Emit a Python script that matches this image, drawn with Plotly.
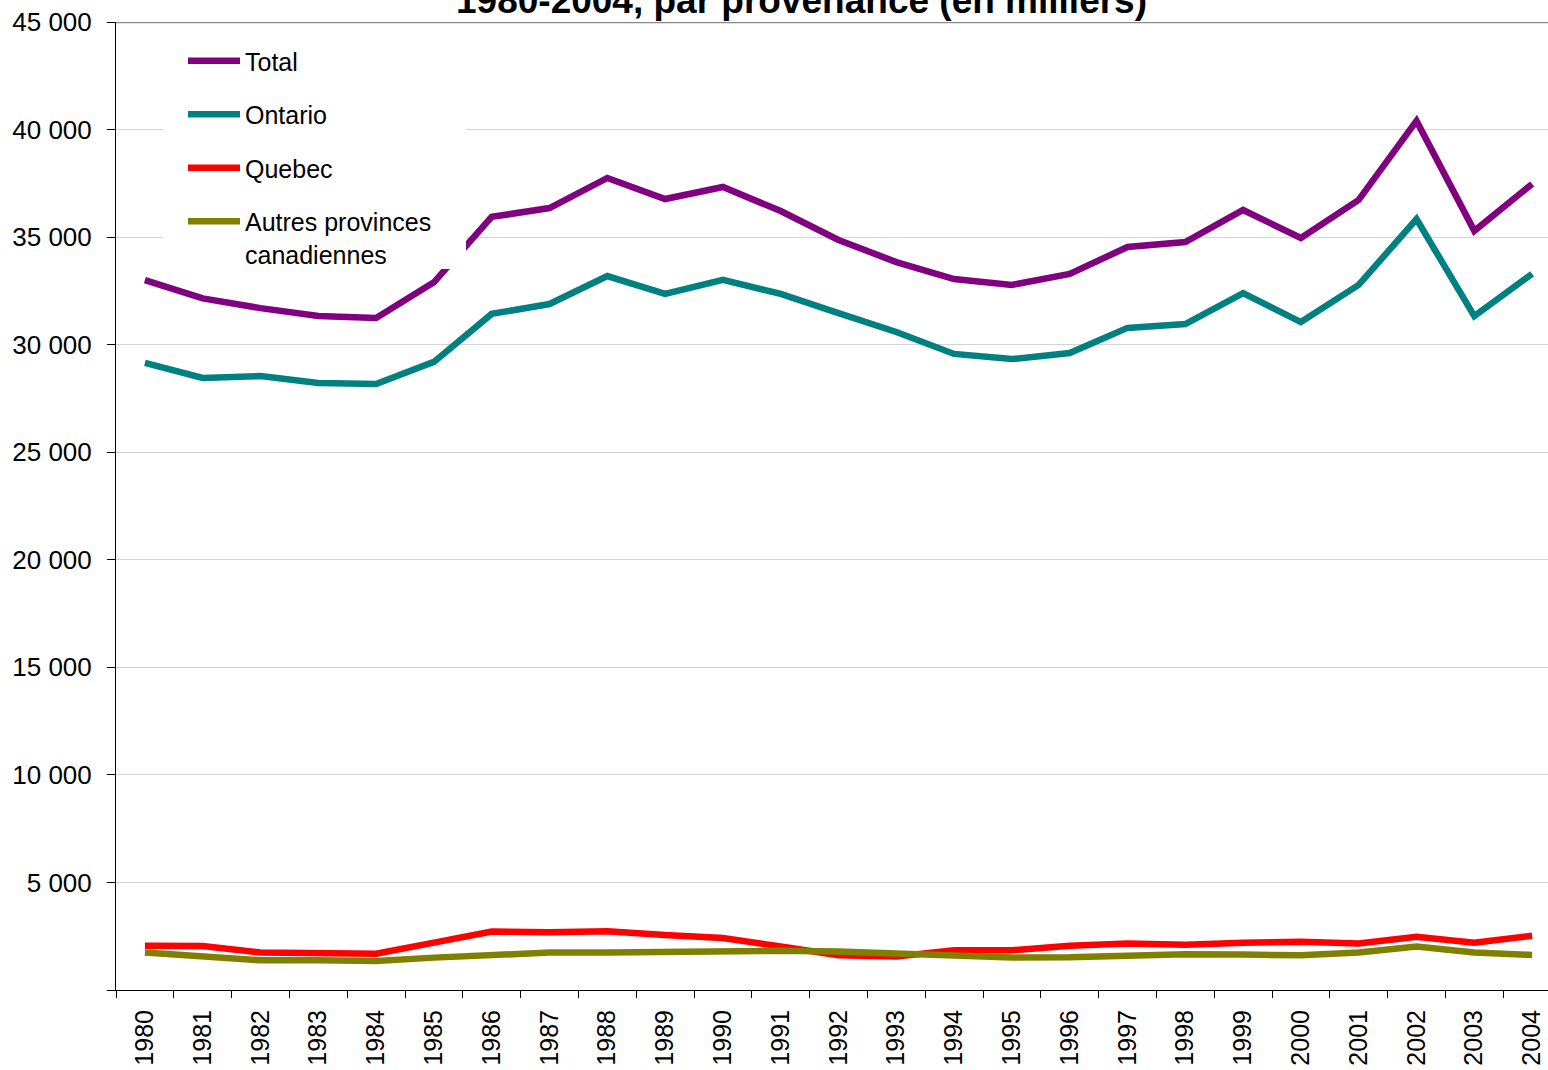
import plotly.graph_objects as go

years = [str(y) for y in range(1980, 2005)]
total = [33000, 32150, 31700, 31330, 31240, 32900, 35940, 36350, 37750, 36770,
         37330, 36210, 34870, 33840, 33050, 32780, 33290, 34540, 34770, 36260,
         34960, 36730, 40400, 35290, 37470]
ontario = [29150, 28450, 28545, 28220, 28170, 29200, 31430, 31890, 33190, 32360,
           33010, 32360, 31470, 30590, 29570, 29330, 29610, 30780, 30960, 32400,
           31050, 32780, 35840, 31330, 33290]
quebec = [2060, 2050, 1740, 1740, 1690, 2200, 2715, 2680, 2730, 2560,
          2420, 2020, 1620, 1560, 1850, 1850, 2055, 2160, 2100, 2195,
          2240, 2160, 2480, 2195, 2525]
autres = [1740, 1555, 1380, 1380, 1350, 1505, 1660, 1740, 1740, 1770,
          1820, 1820, 1785, 1690, 1535, 1510, 1520, 1585, 1660, 1645,
          1615, 1740, 2020, 1740, 1630]
series_names = ["Total", "Ontario", "Quebec", "Autres provinces<br>canadiennes"]
colors = ["#800080", "#008080", "#FF0000", "#808000"]
y_ticks = list(range(0, 45001, 5000))
y_ticktext = [""] + [f"{v:,}".replace(",", " ") for v in y_ticks[1:]]
title_text = "1980-2004, par provenance (en milliers)"

FONT = "Liberation Sans, Arial, sans-serif"
x_idx = list(range(len(years)))

fig = go.Figure()
for i, (name, vals, col) in enumerate(zip(series_names, [total, ontario, quebec, autres], colors)):
    fig.add_trace(go.Scatter(
        x=x_idx, y=vals, name=name, mode="lines",
        line=dict(color=col, width=6.5),
        legendgroup=f"g{i}",
    ))

fig.update_layout(
    width=1548, height=1070,
    margin=dict(l=116, r=0, t=22, b=80),
    paper_bgcolor="white", plot_bgcolor="white",
    font=dict(family=FONT, size=25, color="black"),
    showlegend=True,
    legend=dict(
        x=(183 - 116) / 1432, y=(990 - 38) / 968, xanchor="left", yanchor="top",
        bgcolor="rgba(255,255,255,0)", borderwidth=0, valign="top",
        font=dict(family=FONT, size=25, color="black"),
        tracegroupgap=18, itemwidth=52,
    ),
    annotations=[dict(
        text=f"<b>{title_text}</b>", xref="paper", yref="paper",
        x=(801 - 116) / 1432, y=1.0, xanchor="center", yanchor="bottom",
        yshift=-1, showarrow=False,
        font=dict(family=FONT, size=37, color="black"),
    )],
    shapes=[
        dict(type="line", xref="paper", yref="y", x0=0, x1=1, y0=45000, y1=45000,
             line=dict(color="#8a8a8a", width=2.5)),
        dict(type="rect", xref="paper", yref="paper", layer="above",
             x0=(163 - 116) / 1432, x1=(466 - 116) / 1432,
             y0=(990 - 269) / 968, y1=(990 - 25) / 968,
             fillcolor="white", line=dict(width=0)),
    ],
)

fig.update_xaxes(
    range=[-0.5, -0.5 + 1432 / 57.8],
    tickmode="array", tickvals=x_idx, ticktext=years,
    tickangle=-90, ticks="", showgrid=False, automargin=False,
    ticklabelstandoff=9,
    showline=True, linecolor="black", linewidth=1,
    tickfont=dict(family=FONT, size=25, color="black"),
    minor=dict(tickmode="linear", tick0=-0.5, dtick=1, ticks="outside",
               ticklen=7, tickcolor="black", tickwidth=1, showgrid=False),
    zeroline=False,
)
fig.update_yaxes(
    range=[0, 45000], automargin=False,
    tickmode="array", tickvals=y_ticks, ticktext=y_ticktext,
    ticks="outside", ticklen=8, tickcolor="black", tickwidth=1,
    ticklabelstandoff=10,
    showline=True, linecolor="black", linewidth=1,
    showgrid=True, gridcolor="#d4d4d4", gridwidth=1,
    zeroline=False,
    tickfont=dict(family=FONT, size=26, color="black"),
)

fig.write_html("out.html", config={"displayModeBar": False},
               post_script="document.body.style.margin='0';")
